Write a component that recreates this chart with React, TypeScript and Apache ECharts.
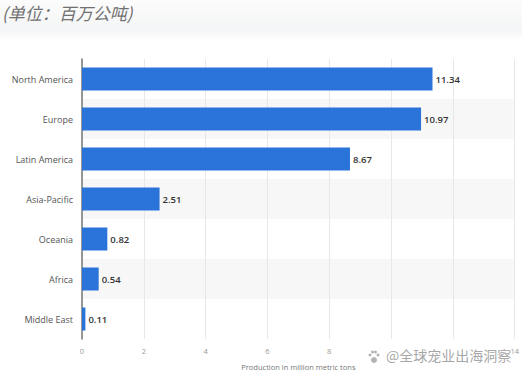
import React, { useEffect, useRef } from "react";
import * as echarts from "echarts";

const categories = ["North America", "Europe", "Latin America", "Asia-Pacific", "Oceania", "Africa", "Middle East"];
const values = [11.34, 10.97, 8.67, 2.51, 0.82, 0.54, 0.11];
const hiddenTicks = [10, 12];
const unitTitle = "(单位：百万公吨)";
const axisName = "Production in million metric tons";
const watermark = "@全球宠业出海洞察";

export default function App() {
  const ref = useRef<HTMLDivElement>(null);
  useEffect(() => {
    document.body.style.margin = "0";
    const chart = echarts.init(ref.current!, null, { renderer: "svg" });
    const paw = "rgba(160,160,160,0.8)";
    chart.setOption({
      animation: false,
      backgroundColor: "#ffffff",
      textStyle: { fontFamily: "Open Sans, Noto Sans, sans-serif" },
      graphic: [
        {
          type: "rect",
          shape: { x: 0, y: 0, width: 522, height: 40 },
          style: {
            fill: new echarts.graphic.LinearGradient(0, 0, 0, 1, [
              { offset: 0, color: "#fcfcfc" },
              { offset: 0.75, color: "#f4f5f6" },
              { offset: 1, color: "#ffffff" },
            ]),
          },
          silent: true,
          z: -1,
        },
        {
          type: "text",
          x: 2,
          y: 4,
          style: {
            text: unitTitle,
            fill: "#707070",
            font: "italic 17px 'Noto Sans CJK SC', sans-serif",
          },
        },
        {
          type: "text",
          x: 386,
          y: 348,
          z: 100,
          style: {
            text: watermark,
            fill: "rgba(150,150,150,0.85)",
            font: "14px 'Noto Sans CJK SC', sans-serif",
            stroke: "rgba(255,255,255,0.9)",
            lineWidth: 2,
          },
        },
        {
          type: "group",
          x: 374,
          y: 357,
          z: 100,
          children: [
            { type: "circle", shape: { cx: 0, cy: 3, r: 3 }, style: { fill: paw } },
            { type: "circle", shape: { cx: -4, cy: -2, r: 1.5 }, style: { fill: paw } },
            { type: "circle", shape: { cx: -1.5, cy: -5, r: 1.5 }, style: { fill: paw } },
            { type: "circle", shape: { cx: 1.5, cy: -5, r: 1.5 }, style: { fill: paw } },
            { type: "circle", shape: { cx: 4, cy: -2, r: 1.5 }, style: { fill: paw } },
          ],
        },
      ],
      grid: { left: 82, right: 6, top: 59, bottom: 34, containLabel: false },
      xAxis: {
        type: "value",
        min: 0,
        max: 14,
        interval: 2,
        name: axisName,
        nameLocation: "middle",
        nameGap: 24,
        nameTextStyle: { fontSize: 7.5, color: "#777" },
        axisLine: { show: false },
        axisTick: { show: false },
        axisLabel: {
          fontSize: 7.5,
          color: "#999",
          margin: 8,
          formatter: (v: number) => (hiddenTicks.includes(v) ? "" : String(v)),
        },
        splitLine: { show: true, lineStyle: { color: "#e8e8e8", width: 1 } },
      },
      yAxis: {
        type: "category",
        data: categories,
        inverse: true,
        axisLine: { show: true, lineStyle: { color: "#777", width: 1.5 } },
        axisTick: { show: false },
        axisLabel: { fontSize: 9, color: "#555", margin: 9 },
        splitArea: { show: true, areaStyle: { color: ["#ffffff", "#f7f7f7"] } },
      },
      series: [
        {
          type: "bar",
          data: values,
          barWidth: 23,
          itemStyle: { color: "#2a73d9" },
          label: {
            show: true,
            position: "right",
            distance: 3,
            fontSize: 9.5,
            color: "#333",
            fontWeight: 600,
          },
        },
      ],
    });
    return () => chart.dispose();
  }, []);
  return <div ref={ref} style={{ width: 522, height: 376 }} />;
}
